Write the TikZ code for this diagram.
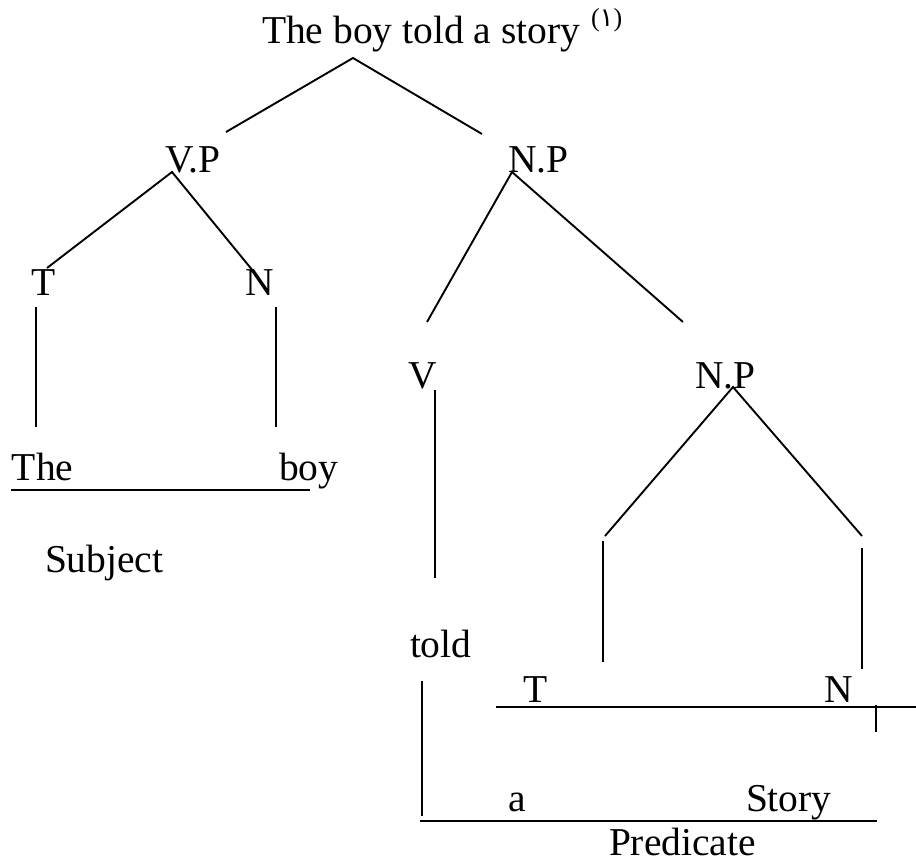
\documentclass[tikz,border=0pt]{standalone}
\usepackage{fontspec}
\setmainfont{Liberation Serif}
\newfontfamily\arabicfont[Script=Arabic]{DejaVu Sans}
\begin{document}
\begin{tikzpicture}[x=1pt,y=-1pt,
  lbl/.style={anchor=base west, inner sep=0pt, outer sep=0pt, font=\fontsize{39.5}{44}\selectfont},
  suplbl/.style={anchor=base west, inner sep=0pt, outer sep=0pt, font=\fontsize{26}{28}\selectfont},
  edge/.style={line width=1.9pt, line cap=butt}]
\useasboundingbox (0,0) rectangle (916,865);
% labels
\node[lbl] (title) at (262,43) {The boy told a story};
\node[suplbl] (sup) at (591,26) {({\arabicfont ١})};
\node[lbl] (vp) at (165,172) {V.P};
\node[lbl] (np1) at (508,172) {N.P};
\node[lbl] (t1) at (31,295) {T};
\node[lbl] (n1) at (245,295) {N};
\node[lbl] (the) at (12,480) {The};
\node[lbl] (boy) at (279,480) {boy};
\node[lbl] (subj) at (45,572) {Subject};
\node[lbl] (v) at (408,388) {V};
\node[lbl] (np2) at (695,388) {N.P};
\node[lbl] (told) at (410,657) {told};
\node[lbl] (t2) at (523,702) {T};
\node[lbl] (n2) at (824,702) {N};
\node[lbl] (a) at (508,811) {a};
\node[lbl] (story) at (746,811) {Story};
\node[lbl] (pred) at (609,855) {Predicate};
% connector end points
\coordinate (s0) at (353,58);
\coordinate (s1) at (226,132);
\coordinate (s2) at (482,134);
\coordinate (vp0) at (172,172);
\coordinate (vp1) at (47,268);
\coordinate (vp2) at (258,277);
\coordinate (ta) at (36,307);
\coordinate (tb) at (36,427);
\coordinate (na) at (276,307);
\coordinate (nb) at (276,427);
\coordinate (sl1) at (11,490);
\coordinate (sl2) at (310,490);
\coordinate (np10) at (512,172);
\coordinate (np11) at (427,322);
\coordinate (np12) at (683,322);
\coordinate (va) at (435,390);
\coordinate (vb) at (435,578);
\coordinate (np20) at (733,387);
\coordinate (np21) at (605,536);
\coordinate (np22) at (862,536);
\coordinate (la) at (603,541);
\coordinate (lb) at (603,662);
\coordinate (ra) at (862,548);
\coordinate (rb) at (862,669);
\coordinate (tl1) at (496,707);
\coordinate (tl2) at (916,707);
\coordinate (tk1) at (876,705);
\coordinate (tk2) at (876,732);
\coordinate (tda) at (422,681);
\coordinate (tdb) at (422,816);
\coordinate (pl1) at (420,821);
\coordinate (pl2) at (877,821);
% connectors
\draw[edge] (s1) -- (s0) -- (s2);
\draw[edge] (vp1) -- (vp0) -- (vp2);
\draw[edge] (ta) -- (tb);
\draw[edge] (na) -- (nb);
\draw[edge] (sl1) -- (sl2);
\draw[edge] (np11) -- (np10) -- (np12);
\draw[edge] (va) -- (vb);
\draw[edge] (np21) -- (np20) -- (np22);
\draw[edge] (la) -- (lb);
\draw[edge] (ra) -- (rb);
\draw[edge] (tl1) -- (tl2);
\draw[edge] (tk1) -- (tk2);
\draw[edge] (tda) -- (tdb);
\draw[edge] (pl1) -- (pl2);
\end{tikzpicture}
\end{document}
